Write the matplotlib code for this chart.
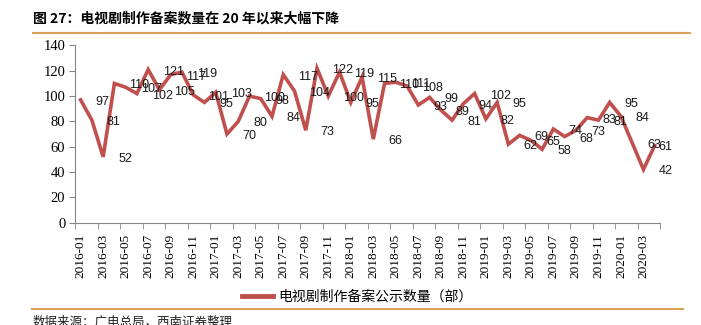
import matplotlib
matplotlib.use("Agg")
import matplotlib.pyplot as plt
from matplotlib.lines import Line2D

plt.rcParams['font.family'] = ['Noto Sans CJK SC', 'DejaVu Sans']

# 月份 2016-01 ~ 2020-04
months = [f"{y}-{m:02d}" for y in range(2016, 2021) for m in range(1, 13)][:52]
counts = [97, 81, 52, 110, 107, 102, 121, 105, 117, 119, 101, 95, 103,
          70, 80, 100, 98, 84, 117, 104, 73, 122, 100, 119, 95, 115, 66,
          110, 111, 108, 93, 99, 89, 81, 94, 102, 82, 95, 62, 69, 65, 58,
          74, 68, 73, 83, 81, 95, 84, 63, 42, 61]
y_ticks = [0, 20, 40, 60, 80, 100, 120, 140]

title = "图 27：电视剧制作备案数量在 20 年以来大幅下降"
series_name = "电视剧制作备案公示数量（部）"
source = "数据来源：广电总局，西南证券整理"

red = '#C0504D'
orange = '#D9A25B'
axis_grey = '#868686'

fig = plt.figure(figsize=(7.01, 3.25), dpi=100)
ax = fig.add_axes([0.107, 0.315, 0.835, 0.545])

x = list(range(len(counts)))
ax.plot(x, counts, color=red, lw=2.6, solid_joinstyle='miter')

# 数据标签（放在点的右侧）
for i, v in enumerate(counts):
    dx = 15 if i < len(counts) - 1 else 4
    ax.annotate(str(v), (i, v), xytext=(dx, -2), textcoords='offset pixels',
                ha='left', va='center', fontsize=9, family='Liberation Sans',
                color='#1a1a1a')

ax.set_xlim(-0.5, len(counts) - 0.5)
ax.set_ylim(0, 140)
ax.set_yticks(y_ticks)
ax.set_yticklabels([str(t) for t in y_ticks], family='Liberation Serif', fontsize=10.5)

ax.set_xticks(x[::2])
ax.set_xticklabels(months[::2], rotation=90, family='Liberation Serif', fontsize=9.5)
ax.set_xticks([i - 0.5 for i in range(0, len(counts) + 1, 2)], minor=True)
ax.tick_params(axis='x', which='major', length=0, pad=8)
ax.tick_params(axis='x', which='minor', length=4, color=axis_grey, direction='out')
ax.tick_params(axis='y', length=4, color=axis_grey, pad=3)

for s in ['top', 'right']:
    ax.spines[s].set_visible(False)
for s in ['left', 'bottom']:
    ax.spines[s].set_color(axis_grey)
    ax.spines[s].set_linewidth(0.8)

# 图例
leg = fig.legend(handles=[Line2D([0], [0], color=red, lw=3.5)], labels=[series_name],
                 loc='center', bbox_to_anchor=(0.51, 0.088), frameon=False,
                 fontsize=10, handlelength=2.2, handletextpad=0.4)

# 标题、分隔线、来源
fig.text(0.047, 0.945, title, fontsize=10, fontweight='bold', va='center', ha='left')
fig.add_artist(Line2D([0.047, 0.985], [0.898, 0.898], color=orange, lw=1.5,
                      transform=fig.transFigure))
fig.add_artist(Line2D([0.046, 0.975], [0.049, 0.049], color=orange, lw=1.5,
                      transform=fig.transFigure))
fig.text(0.047, 0.028, source, fontsize=9, style='italic', va='top', ha='left',
         color='#222222')

fig.savefig('out.png', dpi=100)
